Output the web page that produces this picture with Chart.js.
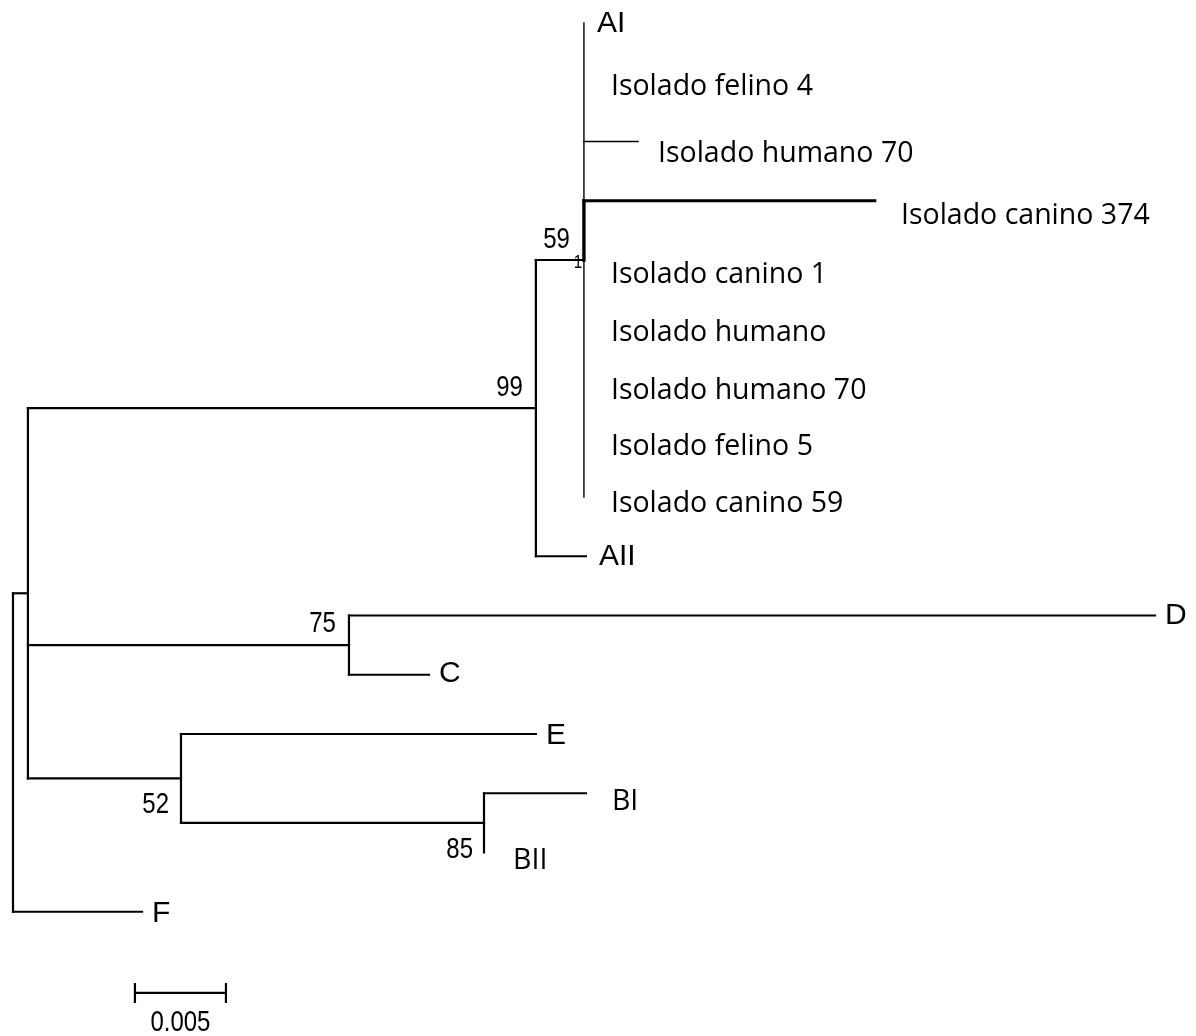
<!DOCTYPE html>
<html>
<head>
<meta charset="utf-8">
<script src="https://cdn.jsdelivr.net/npm/chart.js@4.4.1/dist/chart.umd.min.js"></script>
<style>
  html, body { margin: 0; padding: 0; background: #fff; }
  #wrap { width: 1196px; height: 1036px; position: relative; }
</style>
</head>
<body>
<div id="wrap"><canvas id="tree"></canvas></div>
<script>
// tree topology: one entry per node, parent index (-1 = root)
const nodeNames = ['root', 'n1', 'nA', 'nAI',
  'AI', 'Isolado felino 4', 'Isolado humano 70', 'Isolado canino 374', 'Isolado canino 1',
  'Isolado humano', 'Isolado humano 70', 'Isolado felino 5', 'Isolado canino 59',
  'AII', 'nCD', 'D', 'C', 'nEB', 'E', 'nB', 'BI', 'BII', 'F'];
const nodeParents = [-1, 0, 1, 2, 3, 3, 3, 3, 3, 3, 3, 3, 3, 2, 1, 14, 14, 1, 17, 17, 19, 19, 0];
// branch lengths (substitutions/site)
const branchLengths = [0, 0.00082, 0.02791, 0.00264, 0, 0, 0.00297, 0.01599, 0,
  0, 0, 0, 0, 0.00275, 0.01764, 0.04429, 0.0044, 0.00841, 0.0195, 0.01665, 0.0056, 0, 0.00709];

// bootstrap support
const bootstrapNodes = ['nA', 'nAI', 'nCD', 'nEB', 'nB'];
const bootstrapValues = [99, 59, 75, 52, 85];

const scaleBarLength = 0.005;
const scaleBarLabel = '0.005';

// ---- styles ----
const PX_PER_UNIT = 18200;
const ROW_PX = 59.25;
const FONT_MEGA = '30px "Liberation Sans", Arial, sans-serif';
const FONT_DOC = '28.5px "Open Sans", "Noto Sans", sans-serif';
const FONT_NUM = '"Liberation Sans", Arial, sans-serif';

// per leaf (in drawing order): font kind, dx, dy (px)
const leafLabelStyle = [
  ['mega', 13, 9], ['doc', 27, 13], ['doc', 20, 20], ['doc', 26, 23], ['doc', 27, 23],
  ['doc', 27, 22], ['doc', 27, 20], ['doc', 27, 17], ['doc', 27, 15], ['mega', 13, 9],
  ['mega', 10, 8], ['mega', 10, 7], ['mega', 10, 10], ['doc', 26, 17], ['doc', 29, 16], ['mega', 10, 10]
];
// bootstrap: right edge dx, baseline dy
const bootstrapStyle = [[-13, -12], [-14, -12], [-13, -13], [-12, 35], [-11, 35]];

// ---- build tree geometry ----
const children = nodeNames.map(() => []);
nodeParents.forEach((p, i) => { if (p >= 0) children[p].push(i); });

const nx = [], ny = [];
const leaves = [];
let row = 0;
function layout(i, x0) {
  nx[i] = x0 + branchLengths[i];
  if (children[i].length === 0) {
    ny[i] = row++;
    leaves.push(i);
  } else {
    children[i].forEach(c => layout(c, nx[i]));
    const ch = children[i];
    ny[i] = (ny[ch[0]] + ny[ch[ch.length - 1]]) / 2;
  }
}
layout(0, 0);

const segments = [];
nodeNames.forEach((name, i) => {
  const p = nodeParents[i];
  if (p >= 0 && branchLengths[i] > 0) {
    let w = 2.2;
    if (name === 'Isolado humano 70' && p === 3) w = 1.5;
    if (name === 'Isolado canino 374') w = 2.8;
    segments.push({ pts: [{ x: nx[p], y: ny[i] }, { x: nx[i], y: ny[i] }], w });
  }
  const ch = children[i];
  if (ch.length) {
    segments.push({
      pts: [{ x: nx[i], y: ny[ch[0]] }, { x: nx[i], y: ny[ch[ch.length - 1]] }],
      w: name === 'nAI' ? 1.4 : 2.2
    });
  }
});
// heavier piece of the AI polytomy leading to canino 374
const c374 = nodeNames.indexOf('Isolado canino 374');
const nAI = nodeNames.indexOf('nAI');
segments.push({ pts: [{ x: nx[nAI], y: ny[c374] }, { x: nx[nAI], y: ny[nAI] }], w: 3.4 });

const datasets = segments.map(s => ({
  data: s.pts,
  showLine: true,
  borderColor: '#000',
  borderWidth: s.w,
  borderCapStyle: 'square',
  pointRadius: 0,
  pointHoverRadius: 0,
  fill: false
}));

function drawNum(ctx, text, px, py, size, align) {
  ctx.save();
  ctx.translate(px, py);
  ctx.scale(0.8, 1);
  ctx.font = size + 'px ' + FONT_NUM;
  ctx.textAlign = align;
  ctx.fillText(text, 0, 0);
  ctx.restore();
}

const treeLabels = {
  id: 'treeLabels',
  afterDatasetsDraw(chart) {
    const { ctx, scales: { x, y } } = chart;
    ctx.save();
    ctx.fillStyle = '#000';
    ctx.textBaseline = 'alphabetic';
    ctx.textAlign = 'left';
    leaves.forEach((n, k) => {
      const st = leafLabelStyle[k];
      ctx.font = st[0] === 'mega' ? FONT_MEGA : FONT_DOC;
      ctx.fillText(nodeNames[n], x.getPixelForValue(nx[n]) + st[1], y.getPixelForValue(ny[n]) + st[2]);
    });

    bootstrapNodes.forEach((name, k) => {
      const n = nodeNames.indexOf(name);
      const st = bootstrapStyle[k];
      drawNum(ctx, String(bootstrapValues[k]), x.getPixelForValue(nx[n]) + st[0],
        y.getPixelForValue(ny[n]) + st[1], 30, 'right');
    });
    // stray mark under the 59
    drawNum(ctx, '1', x.getPixelForValue(nx[nAI]) - 6, y.getPixelForValue(ny[nAI]) + 8, 19, 'center');

    // scale bar
    const x0 = x.getPixelForValue(0.0067);
    const x1 = x.getPixelForValue(0.0067 + scaleBarLength);
    const yb = y.getPixelForValue(16.37);
    ctx.strokeStyle = '#000';
    ctx.lineWidth = 2.2;
    ctx.beginPath();
    ctx.moveTo(x0, yb); ctx.lineTo(x1, yb);
    ctx.moveTo(x0, yb - 10); ctx.lineTo(x0, yb + 10);
    ctx.moveTo(x1, yb - 10); ctx.lineTo(x1, yb + 10);
    ctx.stroke();
    drawNum(ctx, scaleBarLabel, (x0 + x1) / 2, yb + 38, 30, 'center');
    ctx.restore();
  }
};

new Chart(document.getElementById('tree'), {
  type: 'scatter',
  data: { datasets },
  options: {
    responsive: true,
    maintainAspectRatio: false,
    animation: false,
    events: [],
    layout: { padding: 0 },
    plugins: { legend: { display: false }, tooltip: { enabled: false } },
    scales: {
      x: { type: 'linear', display: false, min: -13 / PX_PER_UNIT, max: (1196 - 13) / PX_PER_UNIT },
      y: { type: 'linear', display: false, reverse: true, min: -23 / ROW_PX, max: (1036 - 23) / ROW_PX }
    }
  },
  plugins: [treeLabels]
});
</script>
</body>
</html>
